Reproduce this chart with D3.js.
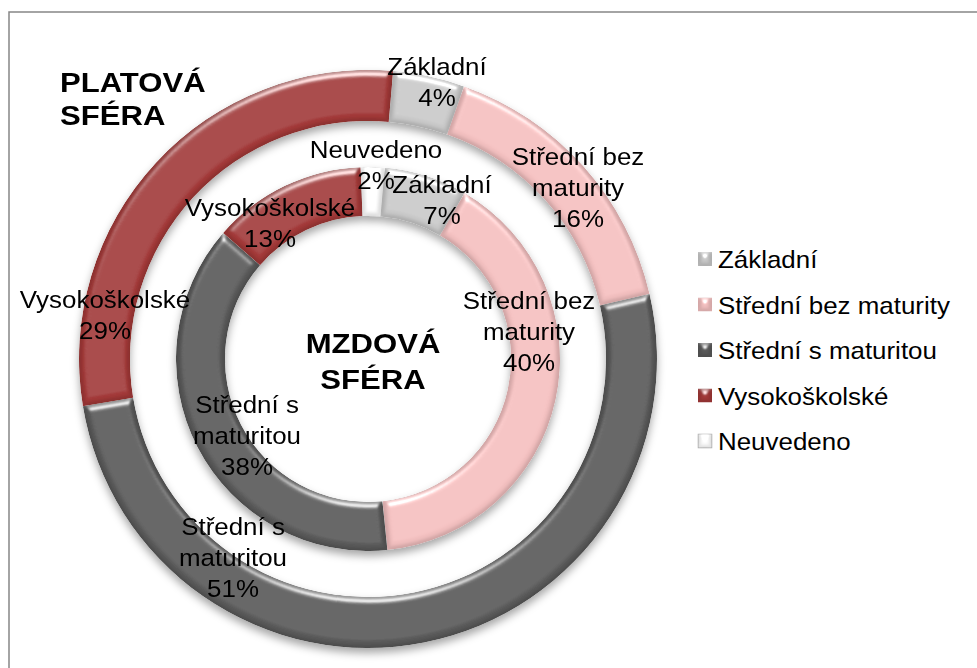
<!DOCTYPE html>
<html>
<head>
<meta charset="utf-8">
<script src="https://cdn.jsdelivr.net/npm/d3@7"></script>
<style>
  body { margin: 0; background: #fff; }
  text { font-family: "Liberation Sans", Arial, sans-serif; fill: #000; }
</style>
</head>
<body>
<div id="chart"></div>
<script>
// Categories and values (percent) for both rings
var categories = ['Základní', 'Střední bez maturity', 'Střední s maturitou', 'Vysokoškolské', 'Neuvedeno'];
var platovaValues = [4, 16, 51, 29, 0];   // outer ring
var mzdovaValues  = [7, 40, 38, 13, 2];   // inner ring
var colors = ['#c9c9c9', '#f2bfbf', '#5a5a5a', '#a33938', '#ffffff'];

// Label text for each slice (split into lines as in the original)
var outerLabels = [['Základní', '4%'], ['Střední bez', 'maturity', '16%'], ['Střední s', 'maturitou', '51%'], ['Vysokoškolské', '29%'], null];
var innerLabels = [['Základní', '7%'], ['Střední bez', 'maturity', '40%'], ['Střední s', 'maturitou', '38%'], ['Vysokoškolské', '13%'], ['Neuvedeno', '2%']];

// Set sizes
var width = 977, height = 668;
var cx = 368, cy = 359;
var outerR = [238, 289], innerR = [143, 192];
var startAngle = 5 * Math.PI / 180;
var textScale = 1.08;

// label anchors were moved by hand in the original, offsets from the ring centre
var outerLabelPos = [[69, -284], [210, -194], [-135, 176], [-263, -51], null];
var innerLabelPos = [[74, -166], [161, -50], [-121, 54], [-98, -143], [8, -201]];

var svg = d3.select('#chart')
    .append('svg')
    .attr('width', width)
    .attr('height', height);

var defs = svg.append('defs');

// soft bevel look
var bevel = defs.append('filter')
    .attr('id', 'bevel')
    .attr('x', '-10%').attr('y', '-10%')
    .attr('width', '120%').attr('height', '120%');
bevel.append('feGaussianBlur').attr('in', 'SourceAlpha').attr('stdDeviation', 3).attr('result', 'blur');
bevel.append('feDiffuseLighting').attr('in', 'blur').attr('surfaceScale', 4)
    .attr('diffuseConstant', 1.0).attr('lighting-color', '#fff').attr('result', 'diff')
  .append('feDistantLight').attr('azimuth', 270).attr('elevation', 90);
bevel.append('feSpecularLighting').attr('in', 'blur').attr('surfaceScale', 5)
    .attr('specularConstant', 1.1).attr('specularExponent', 20).attr('lighting-color', '#fff').attr('result', 'spec')
  .append('feDistantLight').attr('azimuth', 270).attr('elevation', 28);
bevel.append('feComposite').attr('in', 'SourceGraphic').attr('in2', 'diff')
    .attr('operator', 'arithmetic').attr('k1', 1).attr('k2', 0).attr('k3', 0).attr('k4', 0).attr('result', 'shaded');
bevel.append('feComposite').attr('in', 'spec').attr('in2', 'SourceAlpha').attr('operator', 'in').attr('result', 'specIn');
bevel.append('feComposite').attr('in', 'shaded').attr('in2', 'specIn')
    .attr('operator', 'arithmetic').attr('k1', 0).attr('k2', 1).attr('k3', 0.7).attr('k4', 0).attr('result', 'lit');
bevel.append('feComposite').attr('in', 'lit').attr('in2', 'SourceAlpha').attr('operator', 'in');

// drop shadow under the rings
var shadow = defs.append('filter')
    .attr('id', 'shadow')
    .attr('x', '-10%').attr('y', '-10%')
    .attr('width', '120%').attr('height', '125%');
shadow.append('feDropShadow').attr('dx', 0).attr('dy', 5).attr('stdDeviation', 4)
    .attr('flood-color', '#000').attr('flood-opacity', 0.35);

// frame (cut off at the right and bottom like the original)
svg.append('rect')
    .attr('x', 9).attr('y', 12)
    .attr('width', 1000).attr('height', 700)
    .attr('fill', 'none')
    .attr('stroke', '#868686')
    .attr('stroke-width', 1.5);

var pie = d3.pie()
    .sort(null)
    .startAngle(startAngle)
    .endAngle(startAngle + 2 * Math.PI)
    .value(function(d) { return d; });

var chart = svg.append('g')
    .attr('transform', 'translate(' + cx + ',' + cy + ')');

function drawRing(values, radii) {
  var arc = d3.arc().innerRadius(radii[0]).outerRadius(radii[1]);
  var ring = chart.append('g').attr('filter', 'url(#shadow)');
  ring.selectAll('path')
      .data(pie(values).filter(function(d) { return d.value > 0; }))
      .enter()
      .append('path')
      .attr('d', arc)
      .attr('fill', function(d) { return colors[d.index]; })
      .attr('filter', 'url(#bevel)');
}

drawRing(platovaValues, outerR);
drawRing(mzdovaValues, innerR);

// multi line text, slightly stretched horizontally
function addText(parent, lines, x, y, size, weight, anchor, lineH, sx) {
  var t = parent.append('text')
      .attr('transform', 'translate(' + x + ',' + y + ') scale(' + sx + ',1)')
      .style('font-size', size + 'px')
      .style('font-weight', weight)
      .style('text-anchor', anchor);
  lines.forEach(function(line, i) {
    t.append('tspan').attr('x', 0).attr('y', i * lineH).text(line);
  });
  return t;
}

function drawLabels(labels, pos) {
  labels.forEach(function(lines, i) {
    if (!lines) return;
    addText(chart, lines, pos[i][0], pos[i][1], 24, 'normal', 'middle', 31, textScale);
  });
}

drawLabels(outerLabels, outerLabelPos);
drawLabels(innerLabels, innerLabelPos);

// ring titles
addText(svg, ['PLATOVÁ', 'SFÉRA'], 60, 92, 28, 'bold', 'start', 33, 1.11);
addText(chart, ['MZDOVÁ', 'SFÉRA'], 5, -6, 28, 'bold', 'middle', 36, 1.11);

// Legend
var legend = svg.append('g')
    .attr('transform', 'translate(698,268)');

var legendItem = legend.selectAll('g')
    .data(categories)
    .enter()
    .append('g')
    .attr('transform', function(d, i) { return 'translate(0,' + (i * 45.5) + ')'; });

legendItem.append('rect')
    .attr('x', 0).attr('y', -16)
    .attr('width', 14).attr('height', 14)
    .attr('fill', function(d, i) { return colors[i]; })
    .attr('stroke', function(d, i) { return i == 4 ? '#bbb' : 'none'; })
    .attr('filter', 'url(#bevel)');

legendItem.each(function(d) {
  addText(d3.select(this), [d], 20, 0, 24, 'normal', 'start', 0, textScale);
});
</script>
</body>
</html>
